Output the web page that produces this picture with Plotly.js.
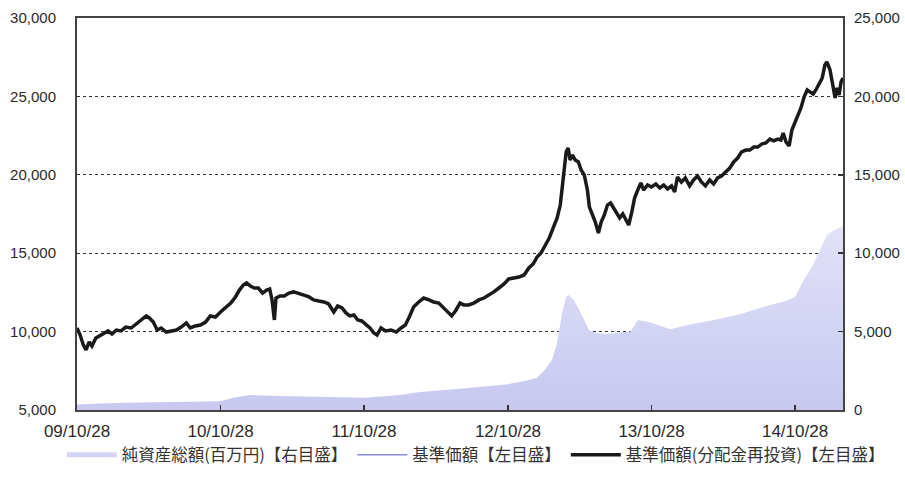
<!DOCTYPE html>
<html>
<head>
<meta charset="utf-8">
<script src="https://cdn.plot.ly/plotly-3.0.1.min.js"></script>
<style>html,body{margin:0;padding:0;background:#fff;}#chart{width:905px;height:492px;}</style>
</head>
<body>
<div id="chart"></div>
<script>
// 基準価額（分配金再投資）: dates and values (円)
const navDates = [
"2009-10-28","2009-11-05","2009-11-13","2009-11-20","2009-11-28","2009-12-05","2009-12-15","2009-12-25",
"2010-01-05","2010-01-15","2010-01-25","2010-02-05","2010-02-17","2010-03-01","2010-03-15","2010-03-28",
"2010-04-10","2010-04-22","2010-04-30","2010-05-10","2010-05-20","2010-05-30","2010-06-12","2010-06-25",
"2010-07-08","2010-07-20","2010-08-02","2010-08-12","2010-08-25","2010-09-07","2010-09-20","2010-10-02",
"2010-10-15","2010-10-28","2010-11-10","2010-11-23","2010-12-05","2010-12-15","2010-12-25","2011-01-02",
"2011-01-12","2011-01-22","2011-02-01","2011-02-12","2011-02-22","2011-03-02","2011-03-08","2011-03-14",
"2011-03-18","2011-03-28","2011-04-08","2011-04-20","2011-05-02","2011-05-15","2011-05-28","2011-06-10",
"2011-06-22","2011-07-05","2011-07-18","2011-07-30","2011-08-12","2011-08-22","2011-09-02","2011-09-12",
"2011-09-22","2011-10-02","2011-10-12","2011-10-22","2011-11-01","2011-11-12","2011-11-22","2011-11-30",
"2011-12-10","2011-12-22","2012-01-05","2012-01-18","2012-01-30","2012-02-10","2012-02-20","2012-03-02",
"2012-03-15","2012-03-28","2012-04-10","2012-04-22","2012-05-05","2012-05-15","2012-05-28","2012-06-07",
"2012-06-18","2012-06-28","2012-07-08","2012-07-20","2012-08-02","2012-08-15","2012-08-28","2012-09-10",
"2012-09-22","2012-10-05","2012-10-18","2012-10-30","2012-11-12","2012-11-25","2012-12-08","2012-12-20",
"2012-12-31","2013-01-10","2013-01-20","2013-01-31","2013-02-10","2013-02-20","2013-03-02","2013-03-10",
"2013-03-18","2013-03-25","2013-03-30","2013-04-04","2013-04-10","2013-04-17","2013-04-25","2013-05-02",
"2013-05-10","2013-05-18","2013-05-23","2013-05-31","2013-06-07","2013-06-15","2013-06-22","2013-06-30",
"2013-07-08","2013-07-16","2013-07-23","2013-07-31","2013-08-08","2013-08-16","2013-08-23","2013-08-31",
"2013-09-08","2013-09-15","2013-09-23","2013-10-01","2013-10-08","2013-10-18","2013-10-28","2013-11-08",
"2013-11-18","2013-11-28","2013-12-08","2013-12-18","2013-12-26","2014-01-02","2014-01-12","2014-01-22",
"2014-02-02","2014-02-12","2014-02-22","2014-03-04","2014-03-14","2014-03-25","2014-04-04","2014-04-14",
"2014-04-24","2014-05-05","2014-05-15","2014-05-25","2014-06-04","2014-06-14","2014-06-25","2014-07-05",
"2014-07-15","2014-07-25","2014-08-05","2014-08-15","2014-08-25","2014-09-04","2014-09-14","2014-09-22",
"2014-09-28","2014-10-05","2014-10-13","2014-10-20","2014-10-28","2014-11-05","2014-11-12","2014-11-20",
"2014-11-28","2014-12-05","2014-12-13","2014-12-20","2014-12-28","2015-01-05","2015-01-12","2015-01-17",
"2015-01-25","2015-02-02","2015-02-07","2015-02-12","2015-02-17","2015-02-22","2015-02-27"
];
const navValues = [
10230,9780,9150,8830,9340,9080,9590,9720,
9850,10040,9850,10100,10040,10290,10230,10490,
10740,11000,10870,10610,10100,10230,9970,10040,
10100,10290,10550,10230,10360,10420,10610,11000,
10930,11250,11510,11820,12210,12650,12970,13100,
12910,12780,12780,12460,12650,12720,12020,10740,
12140,12270,12270,12460,12530,12400,12330,12210,
12020,11950,11890,11760,11250,11630,11510,11190,
11000,11060,10740,10680,10490,10230,9910,9780,
10230,10040,10100,9970,10230,10420,10930,11570,
11890,12140,12020,11890,11820,11570,11190,11000,
11380,11820,11700,11700,11820,12020,12140,12330,
12530,12780,13040,13360,13420,13480,13610,14060,
14310,14760,15010,15460,15970,16610,17250,18070,
19670,21460,21710,20940,21260,20940,20820,20310,
19990,19030,17950,17440,16990,16290,16990,17440,
18070,18200,17880,17630,17250,17500,17120,16800,
17630,18520,19030,19480,19030,19350,19220,19410,
19160,19350,19100,19290,18900,19860,19540,19800,
19290,19670,19920,19540,19290,19670,19410,19800,
19920,20180,20430,20820,21070,21460,21580,21580,
21770,21770,21970,22030,22280,22160,22280,22220,
22670,22090,21840,22860,23370,23750,24260,24960,
25410,25290,25150,25410,25790,26170,27000,27200,
26690,25410,24900,25540,25090,25920,26170
];

// 純資産総額（百万円）
const assetDates = [
"2009-10-28","2009-12-25","2010-04-06","2010-07-17","2010-10-28","2010-12-04","2011-01-11","2011-03-28",
"2011-07-08","2011-10-28","2012-01-27","2012-03-18","2012-06-28","2012-10-28","2012-12-10","2013-01-10",
"2013-01-31","2013-02-17","2013-03-01","2013-03-15","2013-03-25","2013-04-01","2013-04-14","2013-05-01",
"2013-05-22","2013-06-11","2013-07-04","2013-08-08","2013-09-05","2013-09-23","2013-10-24","2013-12-14",
"2014-02-03","2014-04-05","2014-06-10","2014-08-08","2014-10-03","2014-10-28","2014-11-17","2014-12-10",
"2014-12-30","2015-01-17","2015-02-06","2015-02-27"
];
const assetValues = [
350,420,480,520,560,820,950,900,
850,780,950,1150,1350,1650,1850,2050,
2600,3200,4200,6200,7200,7330,7000,6200,
5100,4900,4850,4950,5000,5740,5600,5150,
5450,5740,6100,6570,6950,7200,8200,9120,
10200,11160,11500,11700
];

const xTickVals = ["2009-10-28","2010-10-28","2011-10-28","2012-10-28","2013-10-28","2014-10-28"];
const xTickText = ["09/10/28","10/10/28","11/10/28","12/10/28","13/10/28","14/10/28"];
const seriesNames = ["純資産総額(百万円)【右目盛】","基準価額【左目盛】","基準価額(分配金再投資)【左目盛】"];

const traces = [
  {
    x: assetDates, y: assetValues, yaxis: "y", type: "scatter", mode: "lines",
    fill: "tozeroy", line: {width: 0, color: "#cfcff3"},
    fillgradient: {type: "vertical", start: 0, stop: 12000, colorscale: [[0, "#c8c8f0"], [1, "#e2e2f9"]]},
    showlegend: false, hoverinfo: "skip"
  },
  {
    x: [null], y: [null], yaxis: "y", type: "scatter", mode: "lines",
    name: seriesNames[0], line: {width: 5, color: "#d4d4f4"}
  },
  {
    x: navDates, y: navValues, yaxis: "y2", type: "scatter", mode: "lines",
    name: seriesNames[1], line: {width: 1.5, color: "#8c8ce0"}
  },
  {
    x: navDates, y: navValues, yaxis: "y2", type: "scatter", mode: "lines",
    name: seriesNames[2], line: {width: 3.5, color: "#1a1a1a"}
  }
];

const tickFont = {family: "Liberation Sans, Arial, sans-serif", size: 15, color: "#2a2a2a"};

const layout = {
  width: 905, height: 492,
  margin: {l: 77, r: 62, t: 18, b: 82},
  paper_bgcolor: "#ffffff", plot_bgcolor: "#ffffff",
  showlegend: true,
  legend: {
    orientation: "h", x: -0.02, xanchor: "left", y: -0.115, yanchor: "middle",
    itemwidth: 50,
    font: {family: "Noto Sans CJK JP, sans-serif", size: 16.5, color: "#333"},
    bgcolor: "rgba(0,0,0,0)"
  },
  xaxis: {
    type: "date", range: ["2009-10-28", "2015-02-27"],
    tickmode: "array", tickvals: xTickVals, ticktext: xTickText,
    ticks: "inside", ticklen: 5, tickcolor: "#333", tickwidth: 1.5,
    showline: true, mirror: true, linecolor: "#444", linewidth: 2,
    showgrid: false, zeroline: false,
    tickfont: {family: "Liberation Sans, Arial, sans-serif", size: 17, color: "#2a2a2a"},
    ticklabelstandoff: 5
  },
  yaxis: {
    side: "right", range: [0, 25000], dtick: 5000, tickformat: ",d",
    showgrid: true, gridcolor: "#333", griddash: "dot", gridwidth: 1,
    zeroline: false,
    ticks: "inside", ticklen: 5, tickcolor: "#333", tickwidth: 1.5,
    showline: true, mirror: true, linecolor: "#444", linewidth: 2,
    tickfont: tickFont, ticklabelstandoff: 6
  },
  yaxis2: {
    side: "left", overlaying: "y", range: [5000, 30000], dtick: 5000, tickformat: ",d",
    showgrid: false, zeroline: false, ticks: "", showline: false,
    tickfont: tickFont, ticklabelstandoff: 20
  }
};

Plotly.newPlot("chart", traces, layout, {displayModeBar: false, staticPlot: true});
</script>
</body>
</html>
